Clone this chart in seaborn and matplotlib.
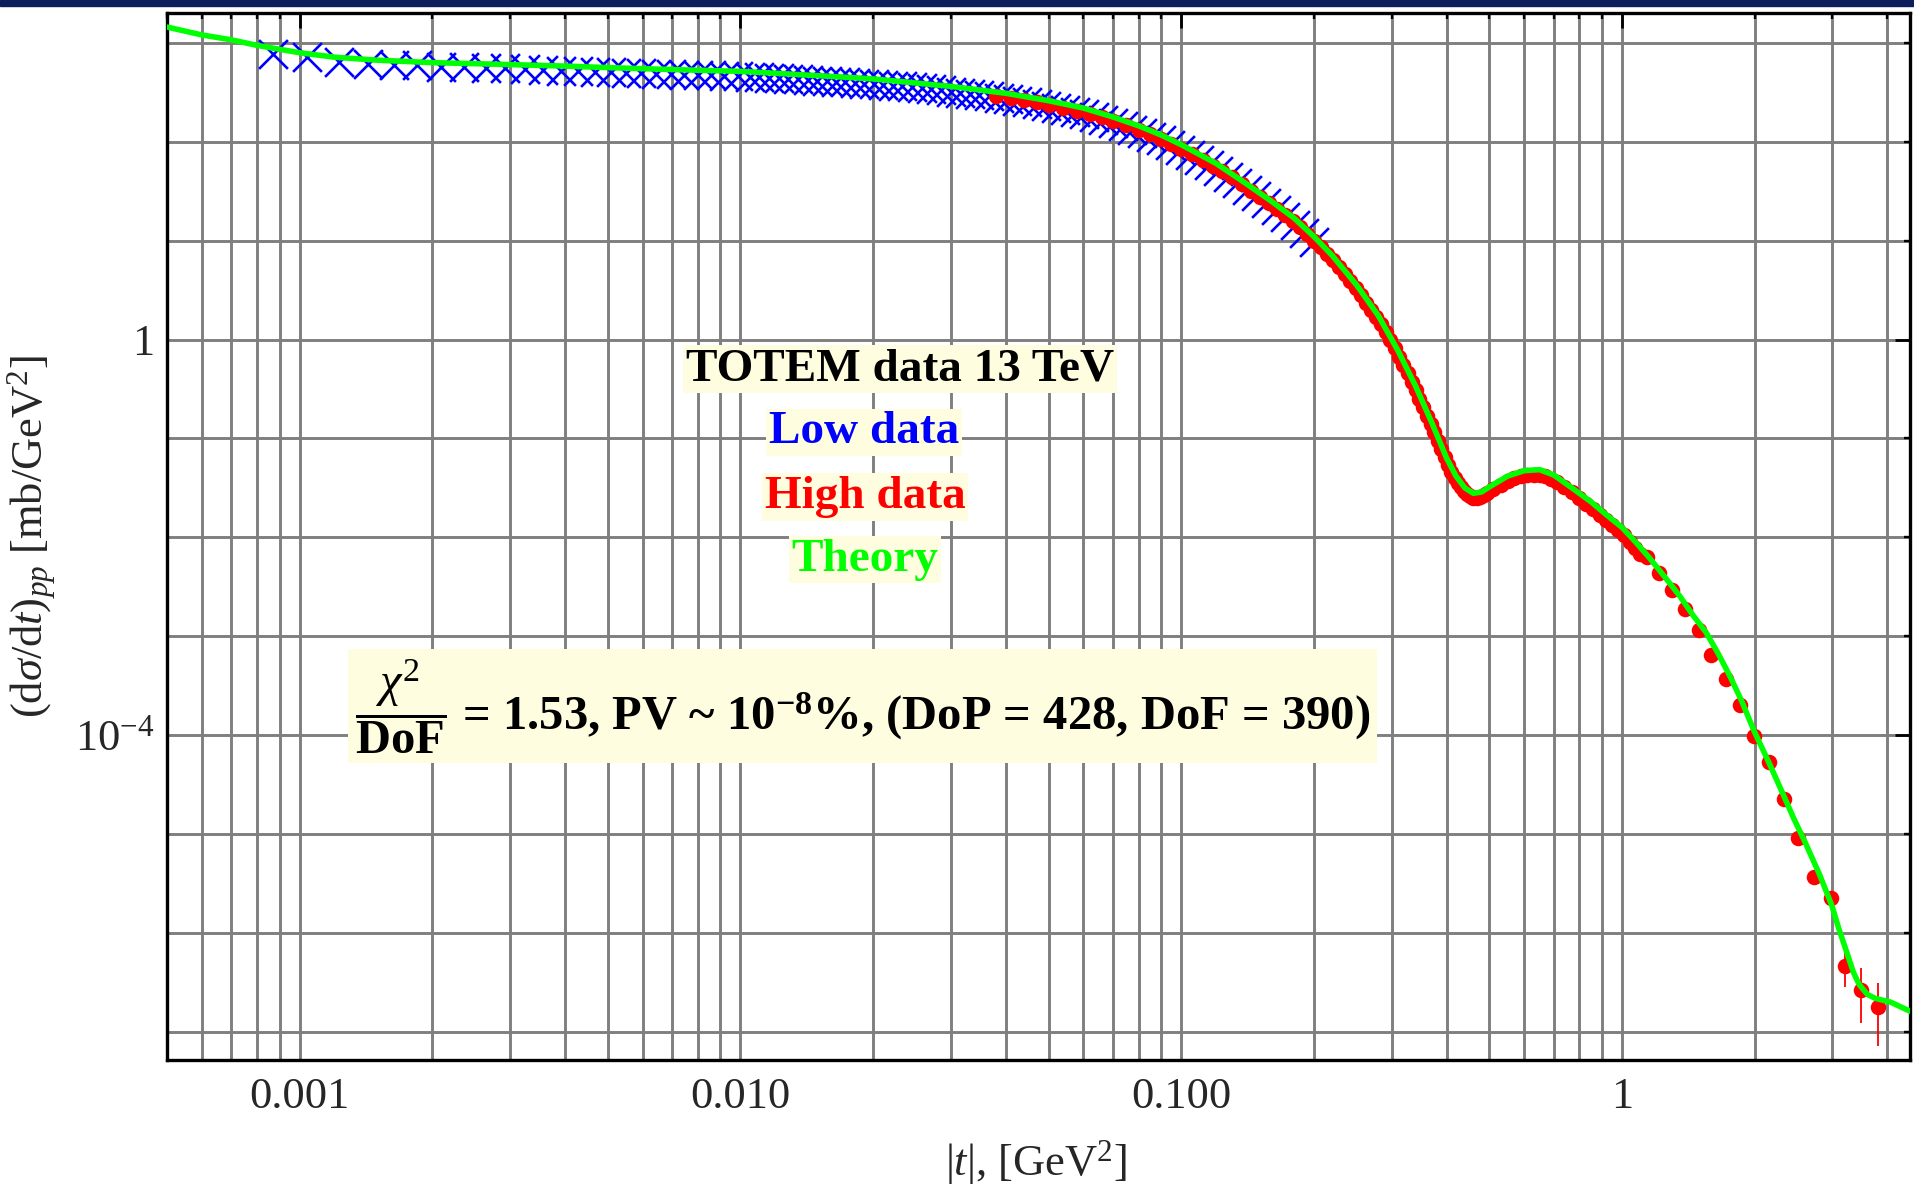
import numpy as np
import seaborn as sns
import matplotlib.pyplot as plt
import matplotlib.ticker as mticker
from matplotlib.patches import Rectangle

# ---------------------------------------------------------------------------
# Data  (|t| in GeV^2, dsigma/dt in mb/GeV^2)

# TOTEM 13 TeV "low |t|" data (blue crosses)
low_t = [0.00087, 0.00104, 0.00123, 0.00143, 0.00164, 0.00185, 0.00209, 0.00236,
         0.00264, 0.00293, 0.00324, 0.00356, 0.00392, 0.00429, 0.00467, 0.00508,
         0.00551, 0.00596, 0.00644, 0.00694, 0.00746, 0.00800, 0.00857, 0.00919,
         0.00985, 0.0105, 0.0110, 0.0116, 0.0122, 0.0128, 0.0135, 0.0142, 0.0149,
         0.0157, 0.0165, 0.0173, 0.0182, 0.0191, 0.0201, 0.0211, 0.0222, 0.0233,
         0.0245, 0.0258, 0.0271, 0.0285, 0.0300, 0.0315, 0.0331, 0.0348, 0.0366,
         0.0385, 0.0405, 0.0425, 0.0447, 0.0470, 0.0494, 0.0519, 0.0546, 0.0574,
         0.0603, 0.0634, 0.0666, 0.0700, 0.0736, 0.0774, 0.0814, 0.0855, 0.0899,
         0.0945, 0.0993, 0.1044, 0.1097, 0.1153, 0.1212, 0.1274, 0.1339, 0.1408,
         0.1480, 0.1556, 0.1636, 0.1720, 0.1808, 0.1900, 0.1997]
low_dsdt = [780, 723, 646, 617, 603, 592, 575, 566, 558, 551, 543, 535, 525, 519,
            512, 504, 498, 492, 486, 480, 475, 472, 468, 465, 460, 455, 450, 445,
            440, 435, 428, 422, 416, 410, 405, 399, 394, 387, 381, 375, 369, 362,
            356, 348, 340, 333, 321, 314, 305, 297, 288, 279, 270, 261, 251, 242,
            232, 219, 209, 200, 189, 178, 166, 155, 144, 133, 122, 112, 103, 92.3,
            82.6, 73.8, 65.8, 58.2, 51.1, 44.3, 38.1, 32.5, 28.1, 24.0, 20.3, 17.3,
            14.5, 11.9, 9.62]

# TOTEM 13 TeV "high |t|" data (red dots)
high_t = [0.038, 0.041, 0.044, 0.047, 0.050, 0.054, 0.058, 0.062, 0.066, 0.070,
          0.075, 0.080, 0.085, 0.090, 0.095, 0.100, 0.106, 0.112, 0.118, 0.124,
          0.130, 0.137, 0.144, 0.151, 0.158, 0.165, 0.172, 0.179, 0.186, 0.193,
          0.200, 0.207, 0.214, 0.221, 0.228, 0.235, 0.242, 0.249, 0.256, 0.263,
          0.270, 0.277, 0.284, 0.291, 0.298, 0.305, 0.312, 0.319, 0.326, 0.333,
          0.340, 0.347, 0.354, 0.361, 0.368, 0.375, 0.382, 0.389, 0.396, 0.403,
          0.410, 0.417, 0.424, 0.431, 0.438, 0.445, 0.452, 0.460, 0.468, 0.476,
          0.485, 0.495, 0.51, 0.53, 0.55, 0.57, 0.59, 0.61, 0.63, 0.65, 0.67,
          0.69, 0.71, 0.74, 0.77, 0.80, 0.83, 0.86, 0.89, 0.92, 0.95, 0.98, 1.01,
          1.04, 1.07, 1.10,
          1.14, 1.215, 1.297, 1.388, 1.491, 1.592, 1.721, 1.849, 1.987, 2.157,
          2.333, 2.505, 2.73, 2.98, 3.2, 3.49, 3.81]
high_dsdt = [291, 277, 264, 251, 237, 221, 207, 191, 176, 162, 146, 132, 119, 107,
             95.5, 85.1, 74.6, 65.5, 57.5, 50.1, 43.7, 37.2, 31.9, 27.6, 23.9, 20.7,
             18.1, 15.8, 13.6, 11.7, 10.0, 8.59, 7.36, 6.31, 5.37, 4.57, 3.89, 3.31,
             2.80, 2.37, 2.00, 1.70, 1.43, 1.19, 0.984, 0.813, 0.670, 0.552, 0.455,
             0.375, 0.309, 0.252, 0.207, 0.169, 0.139, 0.115, 0.0946, 0.0780,
             0.0643, 0.0537, 0.0457, 0.0402, 0.0356, 0.0320, 0.0295, 0.0277, 0.0261,
             0.0251, 0.0251, 0.0257, 0.0266, 0.0282, 0.0305, 0.0339, 0.0372, 0.0395,
             0.0414, 0.0427, 0.0430, 0.0427, 0.0417, 0.0389, 0.0367, 0.0327, 0.0285,
             0.0248, 0.0218, 0.0193, 0.0170, 0.0151, 0.0135, 0.0119, 0.0105,
             0.00902, 0.00785, 0.00684,
             0.00631, 0.00437, 0.00292, 0.00191, 0.00115, 6.53e-4, 3.72e-4, 2.00e-4,
             9.77e-5, 5.37e-5, 2.24e-5, 9.12e-6, 3.72e-6, 2.24e-6, 4.68e-7, 2.63e-7,
             1.80e-7]
# visible error bars on the last three points (lower, upper)
high_err_lo = [1.80e-7, 1.40e-7, 1.08e-7]
high_err_hi = [2.08e-7, 1.84e-7, 1.36e-7]

# Theory curve (green)
theory_t = [0.0005, 0.0006, 0.0007, 0.0008, 0.0009, 0.001, 0.0012, 0.0015, 0.002,
            0.003, 0.004, 0.005, 0.007, 0.01, 0.015, 0.02, 0.03, 0.04, 0.05, 0.06,
            0.07, 0.08, 0.09, 0.10, 0.12, 0.14, 0.16, 0.18, 0.20, 0.22, 0.25, 0.28,
            0.31, 0.34, 0.37, 0.40, 0.42, 0.44, 0.46, 0.48, 0.50, 0.55, 0.60, 0.65,
            0.70, 0.77, 0.85, 0.92, 1.0, 1.07, 1.15, 1.25, 1.35, 1.45, 1.55, 1.65,
            1.76, 1.87, 1.99, 2.15, 2.3, 2.45, 2.6, 2.8, 2.99, 3.1, 3.22, 3.35,
            3.45, 3.6, 3.75, 4.07, 4.5]
theory_dsdt = [1445, 1202, 1072, 944, 861, 794, 716, 668, 631, 603, 582, 562, 537,
               515, 466, 432, 363, 309, 260, 219, 178, 145, 117, 93.3, 60.3, 38.0,
               25.1, 17.0, 11.0, 7.08, 3.55, 1.74, 0.776, 0.339, 0.145, 0.0631,
               0.0417, 0.0316, 0.0279, 0.0288, 0.0324, 0.0417, 0.0473, 0.0484,
               0.0427, 0.0316, 0.0229, 0.0170, 0.0126, 0.00912, 0.00631, 0.00398,
               0.00257, 0.00162, 0.00110, 6.76e-4, 3.89e-4, 2.19e-4, 1.12e-4,
               5.37e-5, 2.75e-5, 1.45e-5, 8.32e-6, 3.98e-6, 1.91e-6, 1.12e-6,
               6.76e-7, 3.98e-7, 3.02e-7, 2.40e-7, 2.19e-7, 2.00e-7, 1.62e-7]

x_tick_vals = [0.001, 0.01, 0.1, 1]
x_tick_labels = ['0.001', '0.010', '0.100', '1']
y_tick_vals = [1e-4, 1]
y_tick_labels = [r'$10^{-4}$', '1']

legend_lines = [('TOTEM data 13 TeV', 'black'), ('Low data', '#0000FF'),
                ('High data', '#FF0000'), ('Theory', '#00FF00')]
fit_text = (r'$\dfrac{\chi^{2}}{\mathbf{DoF}}$ = 1.53, PV ~ 10$^{\mathbf{-8}}$%, '
            r'(DoP = 428, DoF = 390)')

# ---------------------------------------------------------------------------
sns.set_style('white')
plt.rcParams['font.family'] = ['Liberation Serif', 'DejaVu Serif']
plt.rcParams['mathtext.fontset'] = 'custom'
plt.rcParams['mathtext.rm'] = 'Liberation Serif'
plt.rcParams['mathtext.it'] = 'Liberation Serif:italic'
plt.rcParams['mathtext.bf'] = 'Liberation Serif:bold'

grid_col = '#7F7F7F'
pale = '#FFFDE0'

fig = plt.figure(figsize=(19.15, 11.88), dpi=100)
fig.patches.append(Rectangle((0, 1 - 6 / 1188), 1, 6 / 1188, transform=fig.transFigure,
                             color='#0C1F5C', zorder=10))
ax = fig.add_axes([0.0872, 0.1077, 0.9102, 0.8813])
ax.set_xscale('log')
ax.set_yscale('log')

# data
sns.scatterplot(x=low_t, y=low_dsdt, marker='x', color='#0000FF', s=430,
                linewidth=1.9, ax=ax, zorder=3, legend=False)
sns.scatterplot(x=high_t, y=high_dsdt, marker='o', color='#FF0000', s=125,
                linewidth=0, ax=ax, zorder=4, legend=False)
ax.errorbar(high_t[-3:], high_dsdt[-3:], yerr=[high_err_lo, high_err_hi], fmt='none',
            ecolor='#FF0000', elinewidth=1.3, zorder=4)
sns.lineplot(x=theory_t, y=theory_dsdt, color='#00FF00', linewidth=4.0, sort=False,
             estimator=None, ax=ax, zorder=5)

ax.set_xlim(5.0e-4, 4.5)
ax.set_ylim(5.2e-8, 2.0e3)

# ticks
ax.xaxis.set_major_locator(mticker.FixedLocator(x_tick_vals))
ax.xaxis.set_major_formatter(mticker.FixedFormatter(x_tick_labels))
ax.xaxis.set_minor_locator(mticker.LogLocator(base=10, subs=np.arange(2, 10), numticks=20))
ax.xaxis.set_minor_formatter(mticker.NullFormatter())
ax.yaxis.set_major_locator(mticker.FixedLocator(y_tick_vals))
ax.yaxis.set_major_formatter(mticker.FixedFormatter(y_tick_labels))
ax.yaxis.set_minor_locator(mticker.LogLocator(base=10, subs=(1.0,), numticks=30))
ax.yaxis.set_minor_formatter(mticker.NullFormatter())

ax.tick_params(which='both', direction='in', top=True, right=True, color='black')
ax.tick_params(which='major', length=11, width=2.0, labelsize=32)
ax.tick_params(which='minor', length=4.5, width=1.7)
ax.tick_params(axis='x', which='major', pad=12)
ax.tick_params(axis='y', which='major', pad=9)

ax.grid(True, which='both', color=grid_col, linewidth=2.1)
ax.set_axisbelow(True)
for sp in ax.spines.values():
    sp.set_visible(True)
    sp.set_color('black')
    sp.set_linewidth(2.4)

ax.set_xlabel(r'|$t$|, [GeV$^2$]', fontsize=32, va='center')
ax.set_ylabel(r'(d$\sigma$/d$t$)$_{pp}$ [mb/GeV$^2$]', fontsize=32, va='center')
ax.xaxis.set_label_coords(0.4986, -0.098)
ax.yaxis.set_label_coords(-0.077, 0.5)

# in-plot legend text
leg_pos = [(0.4205, 0.660), (0.3998, 0.5995), (0.4004, 0.538), (0.4004, 0.478)]
for (txt, col), (px, py) in zip(legend_lines, leg_pos):
    ax.text(px, py, txt, transform=ax.transAxes, ha='center', va='center',
            fontsize=34, fontweight='bold', color=col, zorder=6,
            bbox=dict(boxstyle='square,pad=0.06', facecolor=pale, edgecolor='none'))

ax.text(0.399, 0.338, fit_text, transform=ax.transAxes, ha='center', va='center',
        fontsize=35, fontweight='bold', color='black', zorder=6,
        bbox=dict(boxstyle='square,pad=0.15', facecolor=pale, edgecolor='none'))

fig.savefig('out.png', dpi=100)
